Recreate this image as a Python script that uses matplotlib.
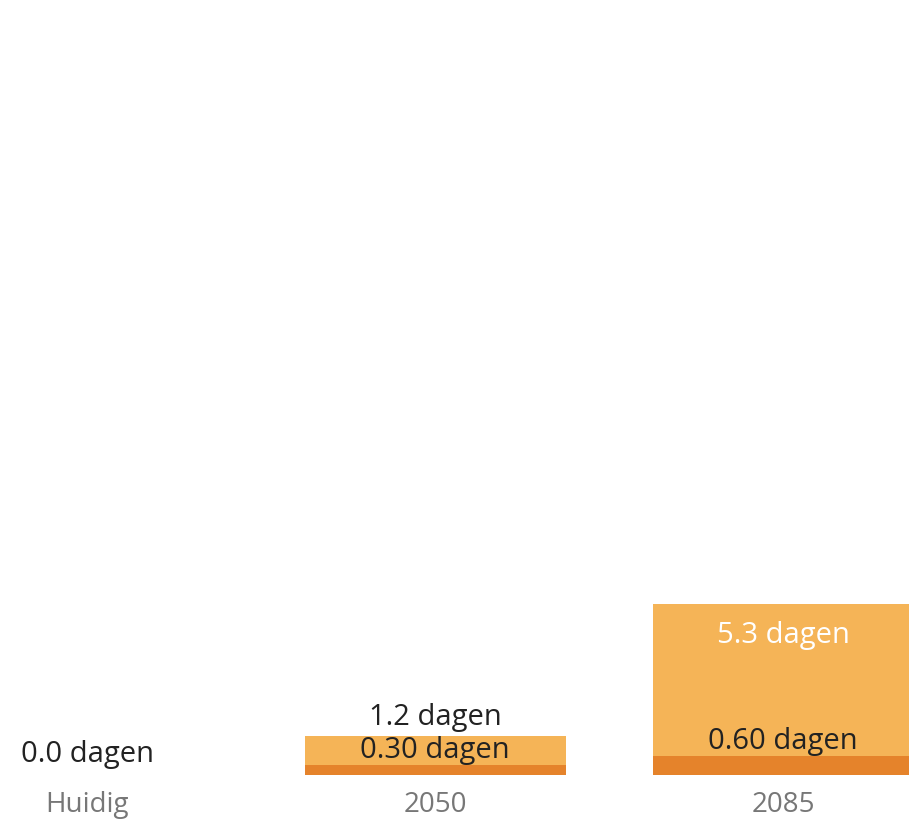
import numpy as np
import matplotlib.pyplot as plt

# scenario data (days)
periods = ["Huidig", "2050", "2085"]
total_days = [0.0, 1.2, 5.3]
base_days = [0.0, 0.30, 0.60]
total_labels = ["0.0 dagen", "1.2 dagen", "5.3 dagen"]
base_labels = ["", "0.30 dagen", "0.60 dagen"]

light = "#F5B457"
dark = "#E5832B"

plt.rcParams['font.family'] = ['Open Sans', 'DejaVu Sans']

fig = plt.figure(figsize=(9.09, 8.21), dpi=100)
ax = fig.add_axes([0, 46 / 821, 1, 775 / 821])

x = np.arange(len(periods))
w = 0.75
ax.bar(x, total_days, width=w, color=light, zorder=1)
ax.bar(x, base_days, width=w, color=dark, zorder=2)

fs = 21
for xi, t, b, tl, bl in zip(x, total_days, base_days, total_labels, base_labels):
    if t > 3:
        # big bar: label inside near the top
        ax.annotate(tl, (xi, t), xytext=(0, -23), textcoords="offset points",
                    ha="center", va="center", color="white", fontsize=fs)
    else:
        ax.annotate(tl, (xi, t), xytext=(0, 15 if t == 0 else 13.5), textcoords="offset points",
                    ha="center", va="center", color="#222222", fontsize=fs)
    if bl:
        ax.annotate(bl, (xi, b), xytext=(0, 10.5), textcoords="offset points",
                    ha="center", va="center", color="#222222", fontsize=fs)

ax.set_xlim(-0.25, 2.362)
ax.set_ylim(0, 24)
ax.set_xticks(x)
ax.set_xticklabels(periods, color="#777777", fontsize=20)
ax.tick_params(axis="x", length=0, pad=11.5)
ax.set_yticks([])
for s in ax.spines.values():
    s.set_visible(False)

fig.savefig("out.png", dpi=100)
